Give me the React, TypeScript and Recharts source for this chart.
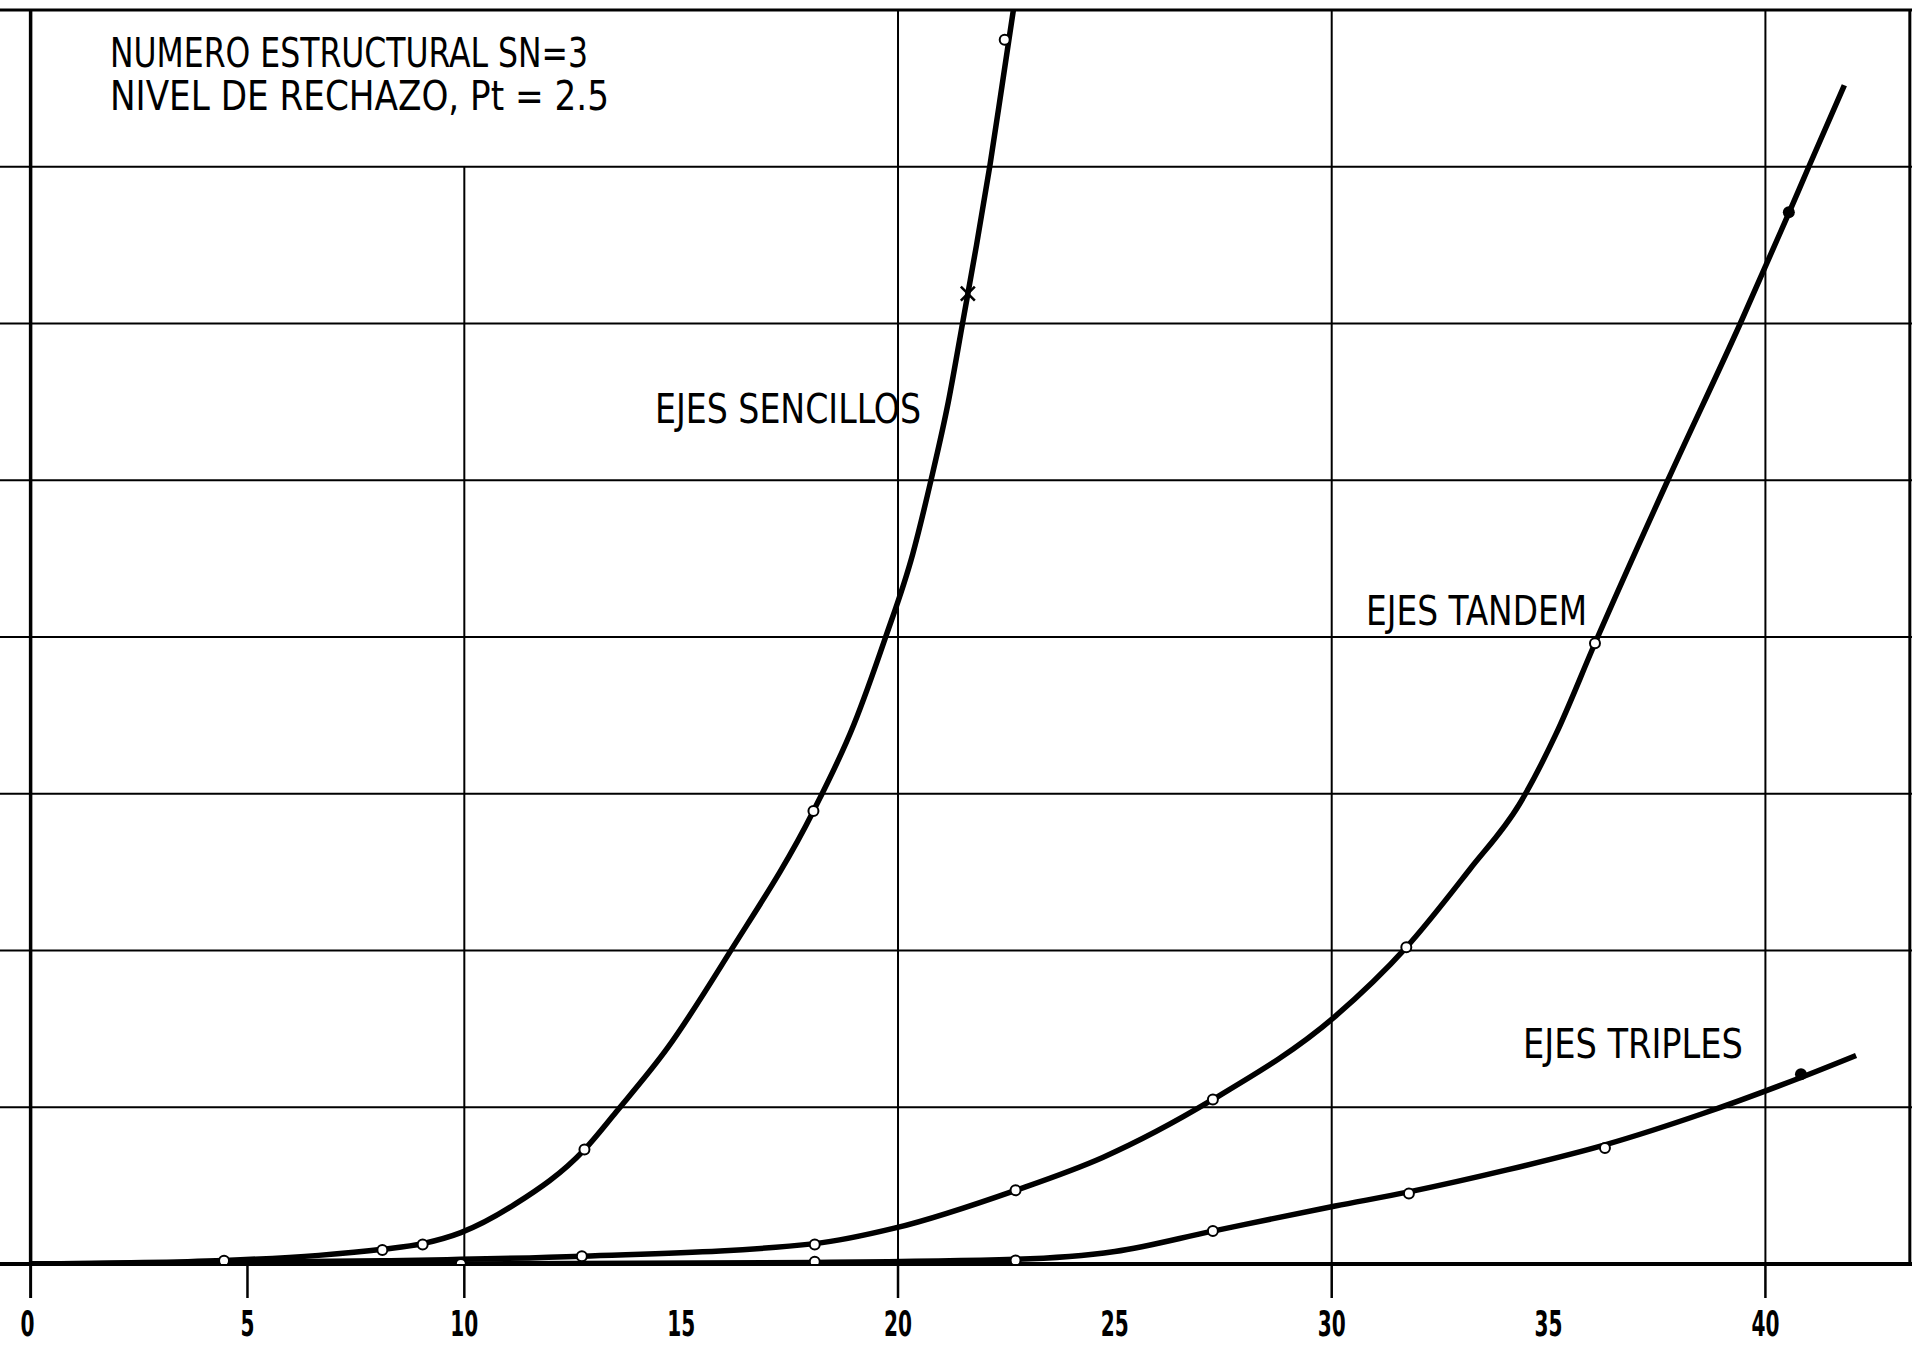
import {
  ComposedChart,
  Line,
  Scatter,
  XAxis,
  YAxis,
  ReferenceLine,
} from "recharts";

// curvas (x = eje horizontal, y = unidades de reticula)
const sencillosX = [0, 4.46, 6.64, 8.11, 9.04, 9.92, 11.16, 12.77, 13.5, 14.69, 16.1, 18.05, 18.98, 19.69, 20.34, 20.76, 21.16, 21.5, 21.81, 22.12, 22.4, 22.66];
const sencillosY = [0, 0.023, 0.055, 0.094, 0.13, 0.2, 0.38, 0.73, 0.97, 1.38, 1.98, 2.89, 3.44, 3.98, 4.53, 5.0, 5.5, 6.02, 6.5, 7.01, 7.52, 8.0];

const tandemX = [0, 8.1, 12.71, 18.08, 19.94, 22.71, 24.72, 27.26, 30.08, 31.72, 33.19, 34.32, 35.17, 36.07, 37.75, 39.42, 40.55, 41.0, 41.82];
const tandemY = [0, 0.02, 0.05, 0.13, 0.23, 0.47, 0.68, 1.05, 1.58, 2.02, 2.52, 2.93, 3.38, 3.96, 5.0, 6.0, 6.71, 7.0, 7.52];

const triplesX = [0, 9.92, 18.08, 22.71, 25.0, 27.26, 30.08, 31.78, 34.04, 36.3, 38.56, 40.82, 42.09];
const triplesY = [0, 0.0, 0.01, 0.03, 0.08, 0.21, 0.37, 0.46, 0.6, 0.76, 0.96, 1.19, 1.33];

// marcas de puntos sobre las curvas
const sencillosMarkX = [4.46, 8.11, 9.04, 12.77, 18.05, 22.46];
const sencillosMarkY = [0.02, 0.09, 0.125, 0.73, 2.89, 7.81];
const sencillosCrossX = [21.61];
const sencillosCrossY = [6.19];

const tandemMarkX = [12.71, 18.08, 22.71, 27.26, 31.72, 36.07];
const tandemMarkY = [0.05, 0.125, 0.47, 1.05, 2.02, 3.96];
const tandemFillX = [40.54];
const tandemFillY = [6.71];

const triplesMarkX = [9.92, 18.08, 22.71, 27.26, 31.78, 36.3];
const triplesMarkY = [0.0, 0.015, 0.023, 0.21, 0.45, 0.74];
const triplesFillX = [40.82];
const triplesFillY = [1.21];

const xTicks = [0, 5, 10, 15, 20, 25, 30, 35, 40];
const tickMarks = [0, 5, 10, 20, 30, 40];
const fullGridX = [20, 30, 40];
const gridY = [1, 2, 3, 4, 5, 6, 7, 8];

const X_MIN = -0.706;
const X_MAX = 43.38;

const FONT = '"DejaVu Sans Condensed", "Liberation Sans", sans-serif';

const toPts = (xs: number[], ys: number[]) => xs.map((x, i) => ({ x, y: ys[i] }));

const OpenDot = (p: any) => (
  <circle cx={p.cx} cy={p.cy} r={5} fill="#fff" stroke="#000" strokeWidth={2} />
);
const FilledDot = (p: any) => <circle cx={p.cx} cy={p.cy} r={6} fill="#000" />;
const Cross = (p: any) => (
  <g stroke="#000" strokeWidth={2.5}>
    <line x1={p.cx - 7} y1={p.cy - 7} x2={p.cx + 7} y2={p.cy + 7} />
    <line x1={p.cx - 7} y1={p.cy + 7} x2={p.cx + 7} y2={p.cy - 7} />
  </g>
);

const AxisTick = (props: any) => {
  const { x, y, payload } = props;
  const v = payload.value;
  return (
    <g>
      {tickMarks.includes(v) && (
        <line x1={x} x2={x} y1={y} y2={y + 34} stroke="#000" strokeWidth={v === 0 ? 3 : 2.5} />
      )}
      <text
        x={x - (v === 0 ? 3 : 0)}
        y={y + 72}
        textAnchor="middle"
        fontFamily={FONT}
        fontWeight="bold"
        fontSize={35}
        textLength={v < 10 ? 14 : 28}
        lengthAdjust="spacingAndGlyphs"
        fill="#000"
      >
        {v}
      </text>
    </g>
  );
};

const notes = [
  { text: "NUMERO ESTRUCTURAL SN=3", x: 110, y: 67, w: 478 },
  { text: "NIVEL DE RECHAZO, Pt = 2.5", x: 110, y: 110, w: 499 },
  { text: "EJES SENCILLOS", x: 655, y: 423, w: 266 },
  { text: "EJES TANDEM", x: 1366, y: 625, w: 221 },
  { text: "EJES TRIPLES", x: 1523, y: 1058, w: 220 },
];

export default function App() {
  return (
    <div style={{ position: "absolute", left: 0, top: 0, width: 1921, height: 1346, background: "#fff" }}>
      <ComposedChart
        width={1921}
        height={1346}
        margin={{ top: 10, right: 9, bottom: 10, left: 0 }}
      >
        <XAxis
          type="number"
          dataKey="x"
          domain={[X_MIN, X_MAX]}
          ticks={xTicks}
          allowDataOverflow
          height={72}
          tickSize={0}
          tickMargin={0}
          tickLine={false}
          axisLine={{ stroke: "#000", strokeWidth: 4 }}
          tick={<AxisTick />}
          interval={0}
        />
        <YAxis type="number" domain={[0, 8]} hide allowDataOverflow />

        {gridY.map((y) => (
          <ReferenceLine key={"h" + y} y={y} stroke="#000" strokeWidth={y === 8 ? 3 : 2} />
        ))}
        {fullGridX.map((x) => (
          <ReferenceLine key={"v" + x} x={x} stroke="#000" strokeWidth={2} />
        ))}
        <ReferenceLine
          segment={[
            { x: 10, y: 0 },
            { x: 10, y: 7 },
          ]}
          stroke="#000"
          strokeWidth={2}
        />
        <ReferenceLine x={0} stroke="#000" strokeWidth={3.5} />
        <ReferenceLine x={X_MAX - 0.05} stroke="#000" strokeWidth={3} />

        <Line
          data={toPts(sencillosX, sencillosY)}
          dataKey="y"
          type="monotone"
          stroke="#000"
          strokeWidth={5.5}
          dot={false}
          isAnimationActive={false}
        />
        <Line
          data={toPts(tandemX, tandemY)}
          dataKey="y"
          type="monotone"
          stroke="#000"
          strokeWidth={5.5}
          dot={false}
          isAnimationActive={false}
        />
        <Line
          data={toPts(triplesX, triplesY)}
          dataKey="y"
          type="monotone"
          stroke="#000"
          strokeWidth={5.5}
          dot={false}
          isAnimationActive={false}
        />

        <Scatter data={toPts(sencillosMarkX, sencillosMarkY)} dataKey="y" shape={OpenDot} isAnimationActive={false} />
        <Scatter data={toPts(sencillosCrossX, sencillosCrossY)} dataKey="y" shape={Cross} isAnimationActive={false} />
        <Scatter data={toPts(tandemMarkX, tandemMarkY)} dataKey="y" shape={OpenDot} isAnimationActive={false} />
        <Scatter data={toPts(tandemFillX, tandemFillY)} dataKey="y" shape={FilledDot} isAnimationActive={false} />
        <Scatter data={toPts(triplesMarkX, triplesMarkY)} dataKey="y" shape={OpenDot} isAnimationActive={false} />
        <Scatter data={toPts(triplesFillX, triplesFillY)} dataKey="y" shape={FilledDot} isAnimationActive={false} />
      </ComposedChart>

      <svg
        width={1921}
        height={1346}
        style={{ position: "absolute", left: 0, top: 0, pointerEvents: "none" }}
      >
        {notes.map((n) => (
          <text
            key={n.text}
            x={n.x}
            y={n.y}
            fontFamily={FONT}
            fontSize={40}
            textLength={n.w}
            lengthAdjust="spacingAndGlyphs"
            fill="#000"
          >
            {n.text}
          </text>
        ))}
      </svg>
    </div>
  );
}
